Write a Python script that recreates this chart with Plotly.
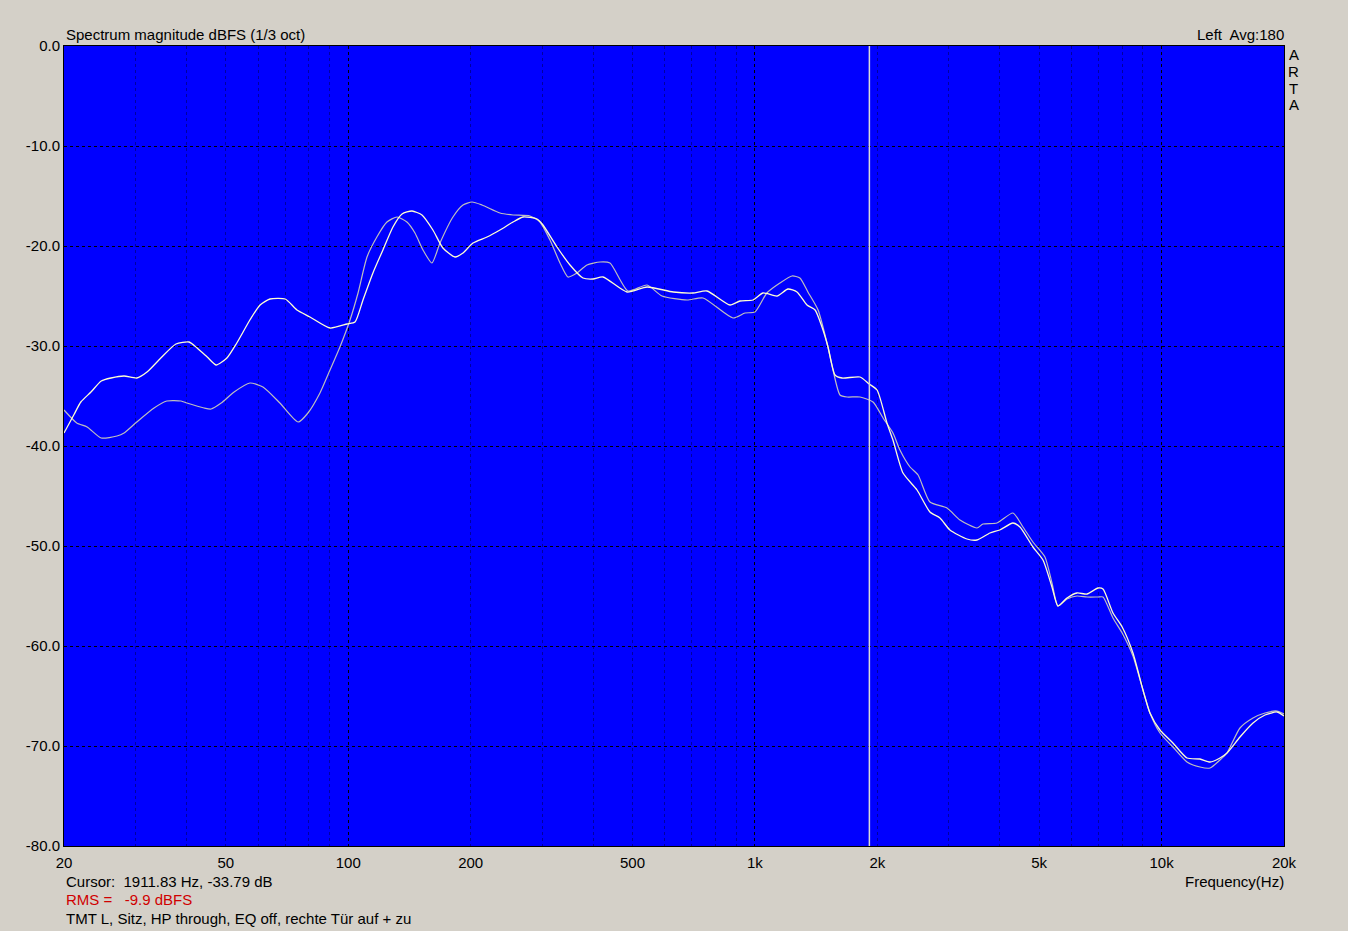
import math
import plotly.graph_objects as go

# ---------------- data ----------------
# Curve A: bright (light yellow / white) trace
freq_a = [20, 21.2, 22.0, 23.3, 24.7, 26.1, 28.1, 30.2, 32.0, 34.6, 37.7, 40.6, 42.5, 45.0, 47.3, 50.3,
          53.2, 57.3, 60.7, 64.2, 70.0, 74.8, 80.5, 90.2, 99.3, 103.9, 108.7, 115.0, 121.7, 128.8, 135.6,
          143.5, 151.8, 161.5, 170.9, 183.0, 191.5, 202.6, 219.4, 236.1, 254.2, 269.0, 291.2, 301.2, 326.1,
          351.0, 377.7, 400, 423.1, 484.7, 542.9, 630, 704.4, 762.3, 868.5, 919.1, 989.2, 1047, 1133, 1206,
          1269, 1343, 1406, 1462, 1513, 1574, 1638, 1813, 1910, 1997, 2112, 2185, 2313, 2504, 2694, 2851,
          3017, 3322, 3516, 3784, 4000, 4310, 4485, 4827, 5109, 5376, 5562, 5853, 6194, 6555, 6977, 7177,
          7594, 8000, 8504, 9000, 9363, 9910, 10663, 11546, 12429, 13154, 13921, 14484, 15588, 16781,
          17959, 19222, 20000]
db_a = [-38.7, -36.8, -35.6, -34.6, -33.5, -33.2, -33.0, -33.2, -32.6, -31.2, -29.8, -29.6, -30.2, -31.1,
        -31.9, -31.2, -29.7, -27.4, -25.9, -25.3, -25.3, -26.4, -27.1, -28.2, -27.8, -27.6, -25.4, -22.7,
        -20.4, -18.1, -16.8, -16.5, -16.9, -18.4, -20.2, -21.1, -20.7, -19.7, -19.1, -18.4, -17.6, -17.1,
        -17.3, -17.9, -20.1, -21.9, -23.2, -23.3, -23.1, -24.6, -24.1, -24.6, -24.7, -24.5, -25.9, -25.5,
        -25.4, -24.7, -25.0, -24.3, -24.6, -25.9, -26.4, -28.1, -30.1, -32.9, -33.2, -33.1, -33.8, -34.4,
        -37.7, -39.4, -42.7, -44.4, -46.6, -47.2, -48.4, -49.3, -49.4, -48.7, -48.4, -47.7, -48.1, -50.1,
        -51.4, -54.1, -56.0, -55.2, -54.7, -54.8, -54.2, -54.3, -56.7, -58.1, -60.7, -64.4, -66.7, -68.4,
        -69.7, -71.2, -71.3, -71.6, -71.2, -70.7, -69.1, -67.7, -66.9, -66.6, -67.0]

# Curve B: grey trace
freq_b = [20, 21.5, 22.8, 24.7, 27.0, 28.1, 30.2, 33.3, 35.8, 38.8, 40.1, 44.2, 46.0, 48.7, 52.4, 57.3,
          61.7, 67.9, 75.3, 79.6, 85.2, 90.2, 95.4, 101.0, 105.7, 111.2, 117.6, 124.5, 131.8, 139.4, 145.9,
          152.7, 160.6, 168.1, 180.9, 191.5, 201.5, 213.3, 236.1, 254.2, 279.8, 296.1, 313.4, 331.7, 347.0,
          365.2, 386.4, 416.0, 440.1, 487.4, 542.9, 590.9, 680.9, 745.4, 883.3, 945.5, 1000, 1070, 1152,
          1234, 1290, 1350, 1430, 1504, 1556, 1619, 1685, 1813, 1952, 2066, 2185, 2273, 2407, 2519, 2694,
          2967, 3193, 3516, 3638, 3937, 4310, 4562, 4827, 5167, 5376, 5562, 5853, 6194, 6555, 6977, 7177,
          7594, 8000, 8504, 9000, 9363, 9910, 10663, 11546, 12429, 13154, 13921, 14484, 15588, 16781,
          17959, 19222, 20000]
db_b = [-36.4, -37.7, -38.1, -39.2, -39.0, -38.7, -37.6, -36.2, -35.5, -35.5, -35.7, -36.2, -36.3, -35.7,
        -34.6, -33.7, -34.1, -35.7, -37.6, -36.7, -34.7, -32.4, -30.1, -27.4, -24.7, -21.1, -19.1, -17.6,
        -17.1, -17.6, -18.7, -20.4, -21.7, -19.7, -17.1, -15.9, -15.6, -15.9, -16.7, -16.9, -17.0, -17.6,
        -19.4, -21.7, -23.1, -22.7, -21.9, -21.6, -21.7, -24.5, -23.9, -25.0, -25.4, -25.2, -27.2, -26.7,
        -26.6, -24.7, -23.7, -23.0, -23.2, -24.6, -26.4, -29.7, -32.4, -34.9, -35.1, -35.1, -35.6, -37.2,
        -38.7, -40.4, -42.1, -42.9, -45.6, -46.2, -47.4, -48.2, -47.8, -47.7, -46.7, -48.1, -49.6, -51.1,
        -53.7, -56.0, -55.3, -55.0, -55.1, -55.1, -55.1, -57.2, -58.7, -61.0, -64.4, -66.7, -68.7, -70.1,
        -71.6, -72.1, -72.2, -71.4, -70.7, -68.2, -67.2, -66.7, -66.5, -66.8]

cursor_freq = 1911.83
cursor_db = -33.79
rms_dbfs = -9.9

x_tick_vals = [20, 50, 100, 200, 500, 1000, 2000, 5000, 10000, 20000]
x_tick_text = ["20", "50", "100", "200", "500", "1k", "2k", "5k", "10k", "20k"]
decade_grid = [100, 1000, 10000]
minor_grid = [30, 40, 50, 60, 70, 80, 90, 200, 300, 400, 500, 600, 700, 800, 900,
              2000, 3000, 4000, 5000, 6000, 7000, 8000, 9000]
y_tick_vals = [0, -10, -20, -30, -40, -50, -60, -70, -80]
y_tick_text = ["0.0", "-10.0", "-20.0", "-30.0", "-40.0", "-50.0", "-60.0", "-70.0", "-80.0"]

title_text = "Spectrum magnitude dBFS (1/3 oct)"
right_text = "Left  Avg:180"
brand_letters = ["A", "R", "T", "A"]
note_text = "TMT L, Sitz, HP through, EQ off, rechte Tür auf + zu"

# ---------------- styling ----------------
FONT = "Liberation Sans, Arial, sans-serif"
FS = 15
BG = "#D4D0C8"
PLOT_BG = "#0000FF"
COL_A = "#FFFFD2"
COL_B = "#BEBEBE"

W, H = 1348, 931
ML, MR, MT, MB = 64, 64, 46, 85
pw, ph = W - ML - MR, H - MT - MB


def px_x(px):
    return (px - ML) / pw


def px_y(py):
    return (H - MB - py) / ph


fig = go.Figure()

fig.add_trace(go.Scatter(x=freq_b, y=db_b, mode="lines", xaxis="x", yaxis="y",
                         line=dict(color=COL_B, width=1.2, shape="spline", smoothing=0.6),
                         hoverinfo="skip", showlegend=False))
fig.add_trace(go.Scatter(x=freq_a, y=db_a, mode="lines", xaxis="x", yaxis="y",
                         line=dict(color=COL_A, width=1.3, shape="spline", smoothing=0.6),
                         hoverinfo="skip", showlegend=False))
# cursor line
fig.add_trace(go.Scatter(x=[cursor_freq, cursor_freq], y=[y_tick_vals[-1], y_tick_vals[0]],
                         mode="lines", xaxis="x2", yaxis="y",
                         line=dict(color="#D8D8D8", width=1.5),
                         hoverinfo="skip", showlegend=False))

xr = [math.log10(x_tick_vals[0]), math.log10(x_tick_vals[-1])]

fig.update_layout(
    width=W, height=H,
    margin=dict(l=ML, r=MR, t=MT, b=MB, pad=0),
    paper_bgcolor=BG, plot_bgcolor=PLOT_BG,
    font=dict(family=FONT, size=FS, color="black"),
    showlegend=False,
    xaxis=dict(type="log", range=xr, tickvals=decade_grid, showticklabels=False,
               showgrid=True, gridcolor="#000000", griddash="3px,3px", gridwidth=1,
               ticks="", showline=True, mirror=True, linecolor="#000000", linewidth=1,
               zeroline=False,
               minor=dict(tickvals=minor_grid, showgrid=True, gridcolor="#0000A0",
                          griddash="3px,3px", gridwidth=1, ticks="")),
    xaxis2=dict(type="log", range=xr, overlaying="x", anchor="y", side="bottom",
                tickvals=x_tick_vals, ticktext=x_tick_text, showgrid=False,
                ticks="", showline=False, zeroline=False, ticklabelstandoff=6,
                tickfont=dict(family=FONT, size=FS, color="black")),
    yaxis=dict(range=[y_tick_vals[-1], y_tick_vals[0]], tickvals=y_tick_vals, ticktext=y_tick_text,
               showgrid=True, gridcolor="#000000", griddash="3px,3px", gridwidth=1,
               ticks="", showline=True, mirror=True, linecolor="#000000", linewidth=1,
               zeroline=False, tickfont=dict(family=FONT, size=FS, color="black")),
)

ann = []
ann.append(dict(text=title_text, xref="paper", yref="paper", x=px_x(64), y=px_y(34),
                xanchor="left", yanchor="middle", showarrow=False))
ann.append(dict(text=right_text, xref="paper", yref="paper", x=px_x(1286), y=px_y(34),
                xanchor="right", yanchor="middle", showarrow=False))
for i, ch in enumerate(brand_letters):
    ann.append(dict(text=ch, xref="paper", yref="paper", x=px_x(1294), y=px_y(55 + i * 16.5),
                    xanchor="center", yanchor="middle", showarrow=False))
ann.append(dict(text="Frequency(Hz)", xref="paper", yref="paper", x=px_x(1286), y=px_y(881),
                xanchor="right", yanchor="middle", showarrow=False))
ann.append(dict(text=f"Cursor:  {cursor_freq:.2f} Hz, {cursor_db:.2f} dB", xref="paper", yref="paper",
                x=px_x(64), y=px_y(881), xanchor="left", yanchor="middle", showarrow=False))
ann.append(dict(text=f"RMS =   {rms_dbfs:.1f} dBFS", xref="paper", yref="paper",
                x=px_x(64), y=px_y(900), xanchor="left", yanchor="middle", showarrow=False,
                font=dict(color="#D00000")))
ann.append(dict(text=note_text, xref="paper", yref="paper", x=px_x(64), y=px_y(918),
                xanchor="left", yanchor="middle", showarrow=False))
fig.update_layout(annotations=ann)

fig.write_html("out.html", config={"displayModeBar": False},
               post_script="document.body.style.margin='0';document.body.style.overflow='hidden';")
